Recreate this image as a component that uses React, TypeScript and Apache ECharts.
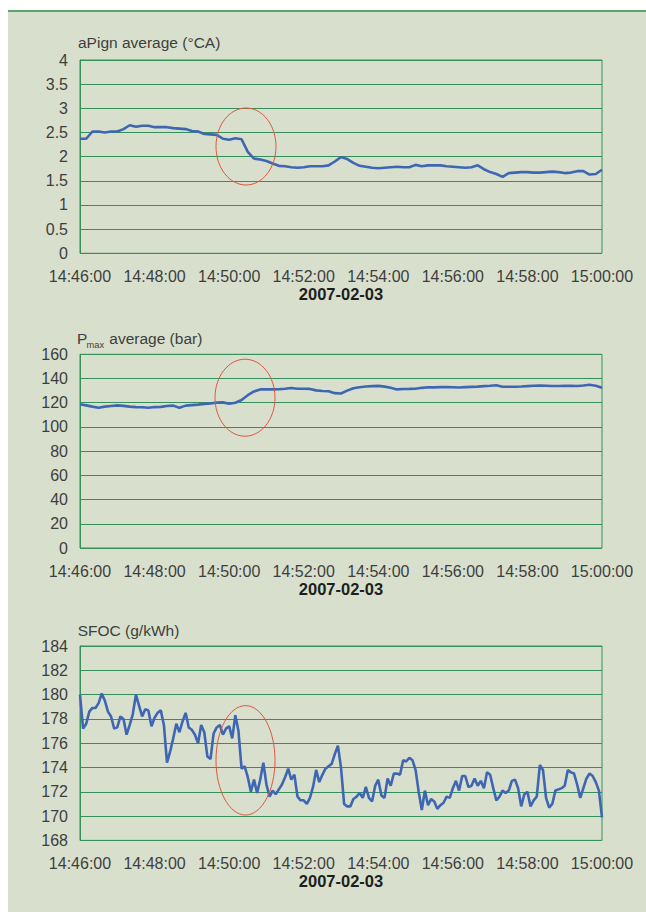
import React, { useEffect, useRef } from "react";
import * as echarts from "echarts";

const TICK_LABELS = ["14:46:00", "14:48:00", "14:50:00", "14:52:00", "14:54:00", "14:56:00", "14:58:00", "15:00:00"];
const DATE_LABEL = "2007-02-03";
const TICK_SECONDS = 120;
const SPAN_SECONDS = 840;

const APIGN_STEP_S = 10;
const APIGN = [
  2.37, 2.37, 2.52, 2.52, 2.5, 2.52, 2.52, 2.57, 2.65, 2.62,
  2.64, 2.64, 2.61, 2.61, 2.61, 2.59, 2.58, 2.57, 2.53, 2.52,
  2.47, 2.46, 2.45, 2.37, 2.35, 2.38, 2.36, 2.1, 1.96, 1.94,
  1.91, 1.86, 1.81, 1.8, 1.78, 1.77, 1.78, 1.8, 1.8, 1.8,
  1.82, 1.9, 1.99, 1.95, 1.87, 1.81, 1.79, 1.77, 1.76, 1.77,
  1.78, 1.79, 1.78, 1.78, 1.83, 1.8, 1.82, 1.82, 1.82, 1.8,
  1.79, 1.78, 1.77, 1.78, 1.82, 1.74, 1.68, 1.64, 1.58, 1.66,
  1.67, 1.68, 1.68, 1.67, 1.67, 1.68, 1.69, 1.68, 1.66, 1.67,
  1.7, 1.7, 1.63, 1.64, 1.73,
];

const PMAX_STEP_S = 10;
const PMAX = [
  118.7, 117.8, 116.8, 115.9, 116.8, 117.3, 117.8, 117.4, 116.8, 116.4,
  116.2, 115.8, 116.4, 116.6, 117.3, 117.6, 115.9, 117.6, 118.0, 118.4,
  118.9, 119.4, 120.1, 120.3, 119.2, 120.0, 122.3, 126.2, 129.3, 131.0,
  131.0, 131.0, 131.1, 131.6, 132.2, 131.6, 131.5, 131.4, 130.2, 129.7,
  129.5, 127.9, 127.6, 130.0, 132.0, 132.8, 133.4, 133.7, 133.9, 133.3,
  132.3, 131.0, 131.3, 131.4, 131.6, 132.3, 132.8, 132.7, 132.9, 133.0,
  132.8, 132.6, 132.9, 133.1, 133.3, 133.7, 134.0, 134.5, 133.2, 133.2,
  133.2, 133.4, 133.7, 134.0, 134.2, 134.0, 133.8, 133.8, 133.9, 134.0,
  133.8, 134.2, 134.8, 134.0, 132.3,
];

const SFOC_STEP_S = 5;
const SFOC = [
  180.0, 177.2, 177.6, 178.6, 178.9, 178.9, 179.3, 180.1, 179.5, 178.6,
  178.2, 177.2, 177.3, 178.2, 178.0, 176.7, 177.5, 178.4, 180.0, 179.1,
  178.2, 178.8, 178.7, 177.4, 178.1, 178.5, 178.7, 177.5, 174.4, 175.3,
  176.4, 177.6, 176.9, 177.8, 178.5, 177.3, 177.1, 176.7, 176.0, 177.5,
  176.9, 174.9, 174.7, 176.8, 177.3, 177.5, 176.7, 177.2, 177.4, 176.4,
  178.3, 177.0, 173.9, 174.1, 173.2, 172.0, 173.0, 171.9, 173.0, 174.4,
  172.6, 171.6, 172.1, 171.8, 172.2, 172.6, 173.2, 173.9, 173.0, 173.4,
  171.6, 171.3, 171.3, 171.0, 171.5, 172.4, 173.8, 172.8, 173.4, 173.9,
  174.1, 174.3, 175.1, 175.8, 174.0, 171.0, 170.8, 170.8, 171.4, 171.6,
  171.9, 171.5, 172.4, 171.5, 171.2, 172.5, 173.0, 171.7, 171.5, 173.1,
  172.5, 173.5, 173.5, 173.4, 174.6, 174.5, 174.8, 174.6, 173.8, 172.0,
  170.5, 172.1, 170.9, 171.4, 171.2, 170.6, 170.9, 171.1, 171.6, 171.5,
  172.3, 172.9, 172.1, 173.3, 173.3, 172.4, 172.5, 173.1, 172.5, 172.9,
  172.3, 173.6, 173.4, 172.3, 171.3, 171.6, 172.1, 171.9, 172.1, 172.9,
  173.0, 172.3, 170.8, 171.8, 172.0, 170.8, 171.3, 171.6, 174.2, 173.8,
  171.5, 170.7, 171.0, 172.1, 172.2, 172.3, 172.5, 173.8, 173.6, 173.5,
  172.6, 171.5, 172.3, 173.1, 173.5, 173.3, 172.8, 172.1, 169.9,
];

const Y_SCALES = [
  { min: 0, max: 4, interval: 0.5 },
  { min: 0, max: 160, interval: 20 },
  { min: 168, max: 184, interval: 2 },
];

const FONT = "'Liberation Sans', Arial, Helvetica, sans-serif";
const SAGE = "#d8e0cd";
const GRID_GREEN = "#35905a";
const LINE_BLUE = "#3f66b2";
const TEXT = "#3e3e3e";
const RED = "#e0553f";

const GRIDS = [
  { left: 80, width: 522, top: 60, height: 193.3 },
  { left: 80, width: 522, top: 354.3, height: 193.7 },
  { left: 80, width: 522, top: 646, height: 194.4 },
];

export default function App() {
  const ref = useRef<HTMLDivElement>(null);

  useEffect(() => {
    if (!ref.current) return;
    const chart = echarts.init(ref.current, null, { renderer: "svg" });

    const seriesSets = [
      { values: APIGN, step: APIGN_STEP_S },
      { values: PMAX, step: PMAX_STEP_S },
      { values: SFOC, step: SFOC_STEP_S },
    ];

    const titleStyle = { fontFamily: FONT, fontSize: 15.5, fill: TEXT, verticalAlign: "middle" as const };

    const option: any = {
      animation: false,
      backgroundColor: SAGE,
      grid: GRIDS.map((g) => ({
        ...g,
        show: true,
        borderColor: GRID_GREEN,
        borderWidth: 1,
        backgroundColor: "transparent",
        containLabel: false,
      })),
      xAxis: GRIDS.map((_, k) => ({
        type: "value",
        gridIndex: k,
        min: 0,
        max: SPAN_SECONDS,
        interval: TICK_SECONDS,
        axisLine: { show: false },
        axisTick: { show: false },
        splitLine: { show: false },
        axisLabel: {
          formatter: (v: number) => TICK_LABELS[Math.round(v / TICK_SECONDS)] ?? "",
          color: TEXT,
          fontSize: 16,
          fontFamily: FONT,
          margin: 15,
          showMinLabel: true,
          showMaxLabel: true,
        },
        name: DATE_LABEL,
        nameLocation: "middle",
        nameGap: 32,
        nameTextStyle: { fontWeight: "bold", fontSize: 16.5, color: "#1e1e1e", fontFamily: FONT },
      })),
      yAxis: GRIDS.map((_, k) => ({
        type: "value",
        gridIndex: k,
        ...Y_SCALES[k],
        axisLine: { show: true, lineStyle: { color: GRID_GREEN, width: 1 } },
        axisTick: { show: false },
        splitLine: { show: true, lineStyle: { color: GRID_GREEN, width: 1 } },
        axisLabel: { color: TEXT, fontSize: 16, fontFamily: FONT, margin: 12 },
      })),
      series: seriesSets.map((s, k) => ({
        type: "line",
        xAxisIndex: k,
        yAxisIndex: k,
        data: s.values.map((v, i) => [i * s.step, v]),
        showSymbol: false,
        symbol: "none",
        lineStyle: { color: LINE_BLUE, width: 2.6 },
        z: 5,
      })),
      graphic: [
        { type: "rect", shape: { x: 0, y: 0, width: 8, height: 912 }, style: { fill: "#ffffff" }, silent: true },
        { type: "rect", shape: { x: 0, y: 0, width: 646, height: 10 }, style: { fill: "#ffffff" }, silent: true },
        { type: "line", shape: { x1: 8, y1: 11, x2: 646, y2: 11 }, style: { stroke: "#5ba36f", lineWidth: 2 }, silent: true },
        { type: "text", x: 78, y: 42.5, style: { ...titleStyle, text: "aPign average (°CA)" } },
        { type: "text", x: 77, y: 338.6, style: { ...titleStyle, text: "P" } },
        { type: "text", x: 86.5, y: 345, style: { ...titleStyle, fontSize: 9.3, text: "max" } },
        { type: "text", x: 109.3, y: 338.6, style: { ...titleStyle, text: "average (bar)" } },
        { type: "text", x: 77.7, y: 630.8, style: { ...titleStyle, text: "SFOC (g/kWh)" } },
        { type: "ellipse", shape: { cx: 246, cy: 146.5, rx: 30, ry: 38.5 }, style: { fill: "none", stroke: RED, lineWidth: 1 }, z: 100 },
        { type: "ellipse", shape: { cx: 245, cy: 397.7, rx: 30, ry: 38.5 }, style: { fill: "none", stroke: RED, lineWidth: 1 }, z: 100 },
        { type: "ellipse", shape: { cx: 245.5, cy: 760.3, rx: 29.5, ry: 54.7 }, style: { fill: "none", stroke: RED, lineWidth: 1 }, z: 100 },
      ],
    };

    chart.setOption(option);
    return () => chart.dispose();
  }, []);

  return <div ref={ref} style={{ position: "absolute", left: 0, top: 0, width: 646, height: 912 }} />;
}
